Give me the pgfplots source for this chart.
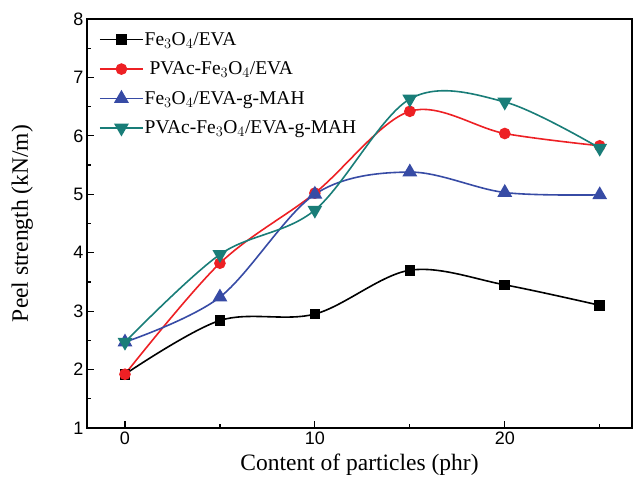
\documentclass[border=0pt]{standalone}
\usepackage{fontspec}
\setmainfont{Liberation Serif}
\newfontfamily\arialf{Liberation Sans}
\usepackage{pgfplots}
\pgfplotsset{compat=1.18}
\definecolor{cred}{RGB}{237,32,36}
\definecolor{cblue}{RGB}{55,75,165}
\definecolor{cteal}{RGB}{25,125,120}
\begin{document}
\begin{tikzpicture}
\begin{axis}[
  scale only axis,
  width=545pt, height=409pt,
  xmin=-2, xmax=26.7, ymin=1, ymax=8,
  xtick={0,10,20}, minor xtick={5,15,25},
  ytick={1,2,...,8}, minor ytick={1.5,2.5,...,7.5},
  tick align=inside,
  xtick pos=bottom, ytick pos=left,
  major tick length=7pt, minor tick length=4pt,
  every tick/.style={black, line width=1.2pt},
  axis line style={line width=1.3pt},
  tick label style={font=\arialf\fontsize{18}{21}\selectfont},
  /pgf/number format/assume math mode=true,
  xlabel={Content of particles (phr)},
  ylabel={Peel strength (kN/m)},
  label style={font=\fontsize{23.5}{27}\selectfont},
  xlabel style={at={(axis description cs:0.5,-0.09)}, anchor=center},
  ylabel style={at={(axis description cs:-0.119,0.5)}, anchor=center},
  legend style={draw=none, fill=none, at={(axis description cs:0.022,0.97)}, anchor=north west,
    font=\fontsize{19.5}{23}\selectfont, row sep=13pt, inner sep=0pt,
    nodes={inner sep=1pt}},
  legend cell align=left,
  legend image code/.code={
    \draw[#1, line width=1.5pt] (0pt,0pt) -- (43pt,0pt);
    \draw[#1, only marks] plot coordinates {(21.5pt,0pt)};},
  every axis plot/.append style={line width=1.6pt, smooth, tension=0.55},
]
\addplot[black, mark=square*, mark size=4.5pt, mark options={solid}] coordinates {
(0,1.92) (5,2.84) (10,2.95) (15,3.70) (20,3.45) (25,3.10)};
\addlegendentry{Fe$_3$O$_4$/EVA}
\addplot[cred, mark=*, mark size=5pt] coordinates {
(0,1.92) (5,3.82) (10,5.02) (15,6.42) (20,6.04) (25,5.83)};
\addlegendentry{\ PVAc-Fe$_3$O$_4$/EVA}
\addplot[cblue, mark=triangle*, mark size=7pt] coordinates {
(0,2.47) (5,3.24) (10,5.00) (15,5.38) (20,5.03) (25,4.99)};
\addlegendentry{Fe$_3$O$_4$/EVA-g-MAH}
\addplot[cteal, mark=triangle*, mark size=7pt, mark options={rotate=180}] coordinates {
(0,2.47) (5,3.97) (10,4.73) (15,6.63) (20,6.58) (25,5.79)};
\addlegendentry{PVAc-Fe$_3$O$_4$/EVA-g-MAH}
\end{axis}
\path[use as bounding box] (current axis.south west) ++(-87pt,-54pt) rectangle ([shift={(3pt,19pt)}]current axis.north east);
\end{tikzpicture}
\end{document}
